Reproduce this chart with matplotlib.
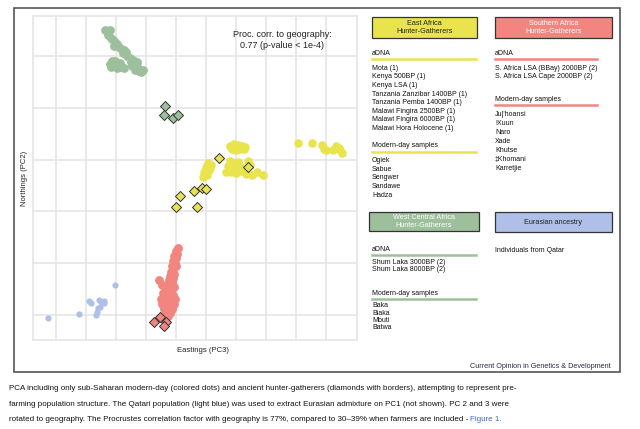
import matplotlib
matplotlib.use('Agg')
import matplotlib.pyplot as plt
from matplotlib.patches import Rectangle
from matplotlib.lines import Line2D

plt.rcParams['font.family'] = ['Liberation Sans', 'DejaVu Sans']

# PCA scores (grid units: eastings = PC3, northings = PC2)
west_modern_x = [1.63, 1.73, 1.80, 1.73, 1.83, 1.90, 1.97, 2.03, 1.93, 2.10, 2.17, 2.27, 2.23, 2.33, 2.37,
                 1.87, 1.80, 1.93, 2.00, 2.10, 2.17, 2.27, 2.03, 2.47, 2.50, 2.57, 2.60, 2.67, 2.73, 2.77,
                 2.83, 2.90, 2.63, 2.53, 2.70, 1.83, 1.97, 2.13]
west_modern_y = [5.50, 5.48, 5.50, 5.41, 5.35, 5.31, 5.27, 5.23, 5.19, 5.17, 5.14, 5.12, 5.06, 5.08, 5.00,
                 4.90, 4.85, 4.87, 4.81, 4.83, 4.79, 4.77, 4.77, 4.96, 4.88, 4.92, 4.85, 4.81, 4.77, 4.71,
                 4.69, 4.73, 4.73, 4.81, 4.88, 4.78, 4.90, 4.86]
west_adna_x = [3.63, 3.61, 3.89, 4.06]
west_adna_y = [4.03, 3.86, 3.80, 3.86]

east_modern_x = [5.80, 5.93, 6.07, 6.20, 6.30, 5.87, 6.00, 6.13, 6.27,
                 5.07, 5.17, 5.00, 5.10, 4.93, 5.03, 5.13, 4.90,
                 5.80, 5.93, 6.07, 5.73, 5.87, 6.00, 6.13, 5.67, 5.83, 6.00, 6.17, 6.30, 6.40, 6.47,
                 6.53, 6.70, 6.90, 6.33,
                 8.07, 8.53, 8.87, 8.93, 9.00, 9.23, 9.33, 9.43, 9.47, 9.53]
east_modern_y = [3.26, 3.30, 3.28, 3.26, 3.24, 3.21, 3.19, 3.21, 3.21,
                 2.93, 2.90, 2.86, 2.80, 2.76, 2.70, 2.84, 2.66,
                 2.97, 2.93, 2.95, 2.88, 2.84, 2.88, 2.88, 2.76, 2.76, 2.74, 2.78, 2.80, 2.97, 2.90,
                 2.70, 2.76, 2.70, 2.72,
                 3.32, 3.32, 3.28, 3.21, 3.19, 3.19, 3.26, 3.22, 3.19, 3.13]
east_adna_x = [5.44, 6.41, 4.58, 4.86, 5.00, 4.14, 4.00, 4.69]
east_adna_y = [3.04, 2.86, 2.40, 2.45, 2.43, 2.30, 2.09, 2.09]

south_modern_x = [4.07, 4.00, 4.03, 3.93, 4.00, 3.90, 3.97, 3.87, 4.00, 3.90, 3.83, 3.93, 3.80, 3.90,
                  3.77, 3.87, 3.43, 3.53, 3.63, 3.73, 3.83, 3.93, 3.67, 3.80, 3.63, 3.80, 3.90, 3.50,
                  3.63, 3.77, 3.87, 3.53, 3.67, 3.80, 3.93, 3.60, 3.73, 3.87, 3.67, 3.80, 3.73, 3.97, 3.57]
south_modern_y = [1.29, 1.24, 1.18, 1.14, 1.10, 1.04, 1.00, 0.95, 0.95, 0.89, 0.83, 0.79, 0.75, 0.71,
                  0.68, 0.64, 0.68, 0.58, 0.56, 0.58, 0.54, 0.54, 0.46, 0.44, 0.37, 0.37, 0.39, 0.31,
                  0.29, 0.27, 0.29, 0.21, 0.19, 0.19, 0.21, 0.12, 0.10, 0.12, 0.04, 0.04, -0.02, 0.31, 0.43]
south_adna_x = [3.27, 3.47, 3.66, 3.60]
south_adna_y = [-0.14, -0.04, -0.13, -0.21]

qatar_x = [-0.26, 0.76, 1.08, 1.16, 1.44, 1.58, 1.47, 1.36, 1.32, 1.97, 1.50, 1.40, 1.60]
qatar_y = [-0.05, 0.03, 0.28, 0.23, 0.29, 0.23, 0.16, 0.06, 0.01, 0.58, 0.25, 0.14, 0.27]

# legend texts
east_adna = ['Mota (1)', 'Kenya 500BP (1)', 'Kenya LSA (1)', 'Tanzania Zanzibar 1400BP (1)',
             'Tanzania Pemba 1400BP (1)', 'Malawi Fingira 2500BP (1)', 'Malawi Fingira 6000BP (1)',
             'Malawi Hora Holocene (1)']
east_modern = ['Ogiek', 'Sabue', 'Sengwer', 'Sandawe', 'Hadza']
south_adna = ['S. Africa LSA (BBay) 2000BP (2)', 'S. Africa LSA Cape 2000BP (2)']
south_modern = ["Ju|'hoansi", '!Xuun', 'Naro', 'Xade', 'Khutse', '\u2021Khomani', 'Karretjie']
west_adna = ['Shum Laka 3000BP (2)', 'Shum Laka 8000BP (2)']
west_modern = ['Baka', 'Biaka', 'Mbuti', 'Batwa']

YELLOW = '#e9e44e'
RED = '#f2857f'
GREEN = '#9dbf9c'
BLUE = '#aebfe8'

W, H = 640, 429


def fx(px):
    return px / W


def fy(py):
    return 1 - py / H


fig = plt.figure(figsize=(6.4, 4.29), dpi=100)

# outer frame
fig.add_artist(Rectangle((fx(14), fy(372)), fx(620) - fx(14), fy(8) - fy(372),
                         transform=fig.transFigure, fill=False, ec='#555555', lw=1.2))

ax = fig.add_axes([fx(33), fy(340), fx(357) - fx(33), fy(16) - fy(340)])
ax.set_xlim(-0.77, 10.03)
ax.set_ylim(-0.48, 5.77)
ax.set_xticks(range(0, 10))
ax.set_yticks(range(0, 6))
ax.tick_params(length=0, labelbottom=False, labelleft=False)
ax.grid(True, color='#e3e3e3', lw=1.1)
ax.set_axisbelow(True)
for s in ax.spines.values():
    s.set_color('#e3e3e3')
    s.set_linewidth(1.1)

ax.scatter(west_modern_x, west_modern_y, s=40, c=GREEN, lw=0)
ax.scatter(east_modern_x, east_modern_y, s=38, c=YELLOW, lw=0)
ax.scatter(south_modern_x, south_modern_y, s=40, c=RED, lw=0)
ax.scatter(qatar_x, qatar_y, s=20, c=BLUE, lw=0)
ax.scatter(west_adna_x, west_adna_y, s=26, marker='D', c=GREEN, edgecolors='#333333', lw=0.7)
ax.scatter(east_adna_x, east_adna_y, s=26, marker='D', c=YELLOW, edgecolors='#333333', lw=0.7)
ax.scatter(south_adna_x, south_adna_y, s=26, marker='D', c=RED, edgecolors='#333333', lw=0.7)

ax.text(7.53, 5.31, 'Proc. corr. to geography:\n0.77 (p-value < 1e-4)', ha='center', va='center',
        fontsize=6.5, color='#222222', linespacing=1.3)

fig.text(fx(25), fy(178), 'Northings (PC2)', rotation=90, ha='center', va='center', fontsize=5.5,
         color='#222222')
fig.text(fx(203), fy(350), 'Eastings (PC3)', ha='center', va='center', fontsize=5.5, color='#222222')

FS = 5.0


def header(x0, x1, y0, y1, color, label, tcolor):
    fig.add_artist(Rectangle((fx(x0), fy(y1)), fx(x1) - fx(x0), fy(y0) - fy(y1),
                             transform=fig.transFigure, fc=color, ec='#333333', lw=0.9))
    fig.text(fx((x0 + x1) / 2), fy((y0 + y1) / 2), label, ha='center', va='center',
             fontsize=5.2, color=tcolor, linespacing=1.2)


def section(x, y, title, line_end, color, items, step, first_gap):
    fig.text(fx(x), fy(y), title, ha='left', va='center', fontsize=FS, color='#111111')
    fig.add_artist(Line2D([fx(x), fx(line_end)], [fy(y + 6), fy(y + 6)],
                          transform=fig.transFigure, color=color, lw=1.8))
    for i, it in enumerate(items):
        fig.text(fx(x), fy(y + first_gap + i * step), it, ha='left', va='center', fontsize=FS,
                 color='#111111')


header(372, 477, 17, 38, YELLOW, 'East Africa\nHunter-Gatherers', '#222222')
header(495, 612, 17, 38, RED, 'Southern Africa\nHunter-Gatherers', 'white')
header(369, 479, 212, 231, GREEN, 'West Central Africa\nHunter-Gatherers', 'white')
header(495, 612, 212, 232, BLUE, 'Eurasian ancestry', '#222222')

section(372, 53.3, 'aDNA', 476, YELLOW, east_adna, 8.57, 15)
section(372, 145.7, 'Modern-day samples', 476, YELLOW, east_modern, 8.5, 15.3)
section(495, 53.3, 'aDNA', 597, RED, south_adna, 8.6, 14.7)
section(495, 99.3, 'Modern-day samples', 597, RED, south_modern, 9.1, 14.7)
section(372, 249.3, 'aDNA', 476, GREEN, west_adna, 7.0, 13)
section(372, 293.3, 'Modern-day samples', 476, GREEN, west_modern, 7.4, 12.4)

fig.text(fx(495), fy(250.7), 'Individuals from Qatar', ha='left', va='center', fontsize=FS,
         color='#111111')
fig.text(fx(611), fy(366.5), 'Current Opinion in Genetics & Development', ha='right', va='center',
         fontsize=5.2, color='#2b2b40')

# caption
cap = ['PCA including only sub-Saharan modern-day (colored dots) and ancient hunter-gatherers '
       '(diamonds with borders), attempting to represent pre-',
       'farming population structure. The Qatari population (light blue) was used to extract '
       'Eurasian admixture on PC1 (not shown). PC 2 and 3 were',
       'rotated to geography. The Procrustes correlation factor with geography is 77%, '
       'compared to 30\u201339% when farmers are included - ']
cap_y = [388.3, 404, 419.3]
last = None
for line, y in zip(cap, cap_y):
    last = fig.text(fx(9), fy(y), line, ha='left', va='center', fontsize=5.8, color='#111111')

fig.canvas.draw()
bb = last.get_window_extent(renderer=fig.canvas.get_renderer())
fig.text(bb.x1 / fig.bbox.width, fy(419.3), 'Figure 1.', ha='left', va='center', fontsize=5.8,
         color='#3d6bc4')

fig.savefig('out.png', dpi=100)
